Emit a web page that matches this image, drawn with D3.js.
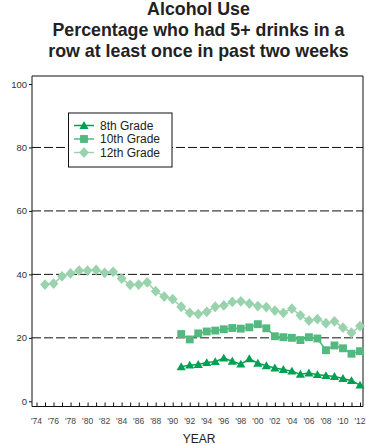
<!DOCTYPE html>
<html><head><meta charset="utf-8">
<script src="https://cdn.jsdelivr.net/npm/d3@7"></script>
<style>body{margin:0;background:#fff}svg{display:block}</style>
</head><body>
<script>
const titleLines = ["Alcohol Use", "Percentage who had 5+ drinks in a", "row at least once in past two weeks"];
const seriesNames = ["8th Grade", "10th Grade", "12th Grade"];
const seriesColors = ["#00a052", "#52b97f", "#98d3ad"];

const years12 = [1975,1976,1977,1978,1979,1980,1981,1982,1983,1984,1985,1986,1987,1988,1989,1990,1991,1992,1993,1994,1995,1996,1997,1998,1999,2000,2001,2002,2003,2004,2005,2006,2007,2008,2009,2010,2011,2012];
const grade12 = [36.8,37.1,39.4,40.3,41.2,41.2,41.4,40.5,40.8,38.7,36.7,36.8,37.5,34.7,33.0,32.2,29.8,27.9,27.5,28.2,29.8,30.2,31.3,31.5,30.8,30.0,29.7,28.6,27.9,29.2,27.1,25.4,25.9,24.6,25.2,23.2,21.6,23.7];

const years10 = [1991,1992,1993,1994,1995,1996,1997,1998,1999,2000,2001,2002,2003,2004,2005,2006,2007,2008,2009,2010,2011,2012];
const grade10 = [21.2,19.5,21.4,22.0,22.3,22.7,23.1,22.9,23.3,24.3,23.0,20.5,20.2,20.0,19.3,20.2,19.8,16.1,17.6,16.7,15.0,15.8];

const years8 = [1991,1992,1993,1994,1995,1996,1997,1998,1999,2000,2001,2002,2003,2004,2005,2006,2007,2008,2009,2010,2011,2012];
const grade8 = [10.9,11.4,11.6,12.2,12.5,13.6,12.6,11.7,13.4,12.0,11.2,10.5,10.0,9.5,8.5,8.9,8.4,8.1,7.8,7.2,6.5,5.1];

const xTickYears = [1974,1975,1976,1977,1978,1979,1980,1981,1982,1983,1984,1985,1986,1987,1988,1989,1990,1991,1992,1993,1994,1995,1996,1997,1998,1999,2000,2001,2002,2003,2004,2005,2006,2007,2008,2009,2010,2011,2012];
const xLabelYears = [1974,1976,1978,1980,1982,1984,1986,1988,1990,1992,1994,1996,1998,2000,2002,2004,2006,2008,2010,2012];
const xLabels = ["'74","'76","'78","'80","'82","'84","'86","'88","'90","'92","'94","'96","'98","'00","'02","'04","'06","'08","'10","'12"];
const yTicks = [0,20,40,60,80,100];
const yGrid = [20,40,60,80];
const xTitle = "YEAR";

const W = 366, H = 445;
const font = "'Liberation Sans', Arial, sans-serif";
const svg = d3.select("body").append("svg").attr("width", W).attr("height", H);

const frame = {left: 32, right: 363, top: 76, bottom: 406.5};
const x = d3.scaleLinear().domain([1974, 2012]).range([36.5, 360]);
const y = d3.scaleLinear().domain([0, 100]).range([401.3, 84]);

// title
const titleY = [15, 35.8, 57.3];
svg.append("g").selectAll("text").data(titleLines).join("text")
  .attr("x", 198.5).attr("y", (d, i) => titleY[i])
  .attr("text-anchor", "middle")
  .attr("font-family", font).attr("font-weight", "bold").attr("font-size", 17.8)
  .attr("fill", "#222").text(d => d);

// gridlines
svg.append("g").selectAll("line").data(yGrid).join("line")
  .attr("x1", frame.left).attr("x2", frame.right)
  .attr("y1", d => y(d)).attr("y2", d => y(d))
  .attr("stroke", "#111").attr("stroke-width", 1).attr("stroke-dasharray", "9,3");

// frame
svg.append("path")
  .attr("d", `M${frame.left},${frame.bottom}V${frame.top}H${frame.right}V${frame.bottom}Z`)
  .attr("fill", "none").attr("stroke", "#111").attr("stroke-width", 1);

// y axis ticks and labels
const yAxis = d3.axisLeft(y).tickValues(yTicks).tickSize(3).tickPadding(2).tickFormat(d3.format("d"));
const gy = svg.append("g").attr("transform", `translate(${frame.left},0)`).call(yAxis);
gy.select(".domain").remove();
gy.selectAll("line").attr("stroke", "#111");
gy.selectAll("text").attr("font-family", font).attr("font-size", 9.5).attr("fill", "#333");

// x axis ticks (up from bottom frame)
const xAxis = d3.axisBottom(x).tickValues(xTickYears).tickSize(-4).tickFormat("");
const gx = svg.append("g").attr("transform", `translate(0,${frame.bottom})`).call(xAxis);
gx.select(".domain").remove();
gx.selectAll("line").attr("stroke", "#111");

// x labels
svg.append("g").selectAll("text").data(xLabelYears).join("text")
  .attr("x", d => x(d)).attr("y", 424)
  .attr("text-anchor", "middle")
  .attr("font-family", font).attr("font-size", 8.5).attr("fill", "#444")
  .text((d, i) => xLabels[i]);

svg.append("text").attr("x", 199).attr("y", 443)
  .attr("text-anchor", "middle").attr("font-family", font).attr("font-size", 12)
  .attr("fill", "#222").text(xTitle);

// custom symbols
const diamondType = {draw(ctx, size) { const r = Math.sqrt(size / 2); ctx.moveTo(0, -r * 1.1); ctx.lineTo(r, 0); ctx.lineTo(0, r * 1.1); ctx.lineTo(-r, 0); ctx.closePath(); }};
const symbolTypes = [d3.symbolTriangle, d3.symbolSquare, diamondType];
const symbolSizes = [36, 62, 48];

const series = [
  {years: years8, values: grade8},
  {years: years10, values: grade10},
  {years: years12, values: grade12}
];

const line = d3.line().x(d => x(d[0])).y(d => y(d[1]));
[2, 1, 0].forEach(i => {
  const s = series[i];
  const pts = s.years.map((yr, j) => [yr, s.values[j]]);
  const g = svg.append("g");
  g.append("path").datum(pts).attr("d", line)
    .attr("fill", "none").attr("stroke", seriesColors[i]).attr("stroke-width", 1.5);
  g.selectAll("path.m").data(pts).join("path").attr("class", "m")
    .attr("transform", d => `translate(${x(d[0])},${y(d[1]) + (i === 0 ? 0.8 : 0)})`)
    .attr("d", d3.symbol().type(symbolTypes[i]).size(symbolSizes[i]))
    .attr("fill", seriesColors[i]);
});

// legend
const lg = svg.append("g");
lg.append("rect").attr("x", 68.5).attr("y", 113).attr("width", 103.5).attr("height", 54)
  .attr("fill", "#fff").attr("stroke", "#111").attr("stroke-width", 1);
seriesNames.forEach((name, i) => {
  const cy = 125.5 + i * 13.5;
  lg.append("line").attr("x1", 74).attr("x2", 94).attr("y1", cy).attr("y2", cy)
    .attr("stroke", seriesColors[i]).attr("stroke-width", 1.5);
  lg.append("path").attr("transform", `translate(84,${cy + (i === 0 ? 0.8 : 0)})`)
    .attr("d", d3.symbol().type(symbolTypes[i]).size(symbolSizes[i]))
    .attr("fill", seriesColors[i]);
  lg.append("text").attr("x", 100).attr("y", cy + 4)
    .attr("font-family", font).attr("font-size", 12).attr("fill", "#222").text(name);
});
</script>
</body></html>
